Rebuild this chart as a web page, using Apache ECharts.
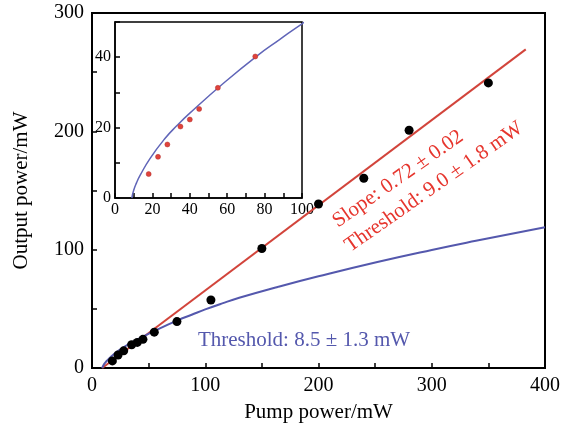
<!DOCTYPE html>
<html>
<head>
<meta charset="utf-8">
<script src="https://cdn.jsdelivr.net/npm/echarts@6/dist/echarts.min.js"></script>
<style>html,body{margin:0;padding:0;background:#fff}#c{width:563px;height:433px}</style>
</head>
<body>
<div id="c"></div>
<script>
// Main panel measured points
const mainX = [18, 23, 28, 35, 40, 45, 55, 75, 105, 150, 200, 240, 280, 350];
const mainY = [6.0, 11.0, 14.5, 19.6, 21.6, 24.2, 30.3, 39.2, 57.5, 101, 138.6, 160.4, 200.9, 240.9];
// Inset measured points
const insetX = [18, 23, 28, 35, 40, 45, 55, 75];
const insetY = [6.8, 11.7, 15.2, 20.3, 22.3, 25.3, 31.3, 40.2];
// Fitted curve
const curveX = [9, 10, 11.5, 13.4, 18.7, 26.7, 33, 40, 58, 76, 88, 100, 115, 130, 164, 200, 252, 300, 339, 400];
const curveY = [0, 2.2, 4.3, 6.4, 11.2, 16.9, 20.5, 24.1, 32.6, 40.4, 45.0, 49.5, 54.6, 59.3, 68.5, 77.5, 89.6, 99.8, 107.5, 119];
// Linear fit endpoints
const lineX = [9, 383];
const lineY = [0, 269.3];
// Tick labels
const mainXLabels = [0, 100, 200, 300, 400];
const mainYLabels = [0, 100, 200, 300];
const insetXLabels = [0, 20, 40, 60, 80, 100];
const insetYLabels = [0, 20, 40];

const pairs = (xs, ys) => xs.map((x, i) => [x, ys[i]]);
const FONT = 'Liberation Serif';
const RED = '#e6352d';
const BLUE = '#5458ad';

const chart = echarts.init(document.getElementById('c'), null, {renderer: 'canvas'});
const axisCommon = (labels, size, margin) => ({
  axisLine: {show: true, onZero: false, lineStyle: {color: '#000', width: 2}},
  axisTick: {show: true, inside: true, length: 5, lineStyle: {color: '#000', width: 1.5}},
  splitLine: {show: false},
  axisLabel: {
    fontFamily: FONT, fontSize: size, color: '#000', margin: margin,
    formatter: v => labels.indexOf(v) >= 0 ? String(v) : ''
  }
});
chart.setOption({
  animation: false,
  backgroundColor: '#fff',
  grid: [
    {left: 92, right: 13, top: 13, bottom: 65, show: true, borderColor: '#000', borderWidth: 2, backgroundColor: 'transparent'},
    {left: 115, right: 261, top: 22, bottom: 235, show: true, borderColor: '#000', borderWidth: 1.5, backgroundColor: '#fff'}
  ],
  xAxis: [
    Object.assign({type: 'value', gridIndex: 0, min: 0, max: 400, interval: 50,
      name: 'Pump power/mW', nameLocation: 'middle', nameGap: 34,
      nameTextStyle: {fontFamily: FONT, fontSize: 21, color: '#000'}}, axisCommon(mainXLabels, 20, 8)),
    Object.assign({type: 'value', gridIndex: 1, min: 0, max: 100, interval: 10}, axisCommon(insetXLabels, 16, 4),
      {axisLine: {show: true, onZero: false, lineStyle: {color: '#000', width: 1.5}}})
  ],
  yAxis: [
    Object.assign({type: 'value', gridIndex: 0, min: 0, max: 300, interval: 50,
      name: 'Output power/mW', nameLocation: 'middle', nameGap: 60,
      nameTextStyle: {fontFamily: FONT, fontSize: 21, color: '#000'}}, axisCommon(mainYLabels, 20, 8)),
    Object.assign({type: 'value', gridIndex: 1, min: 0, max: 50, interval: 10}, axisCommon(insetYLabels, 16, 4),
      {axisLine: {show: true, onZero: false, lineStyle: {color: '#000', width: 1.5}}})
  ],
  series: [
    {type: 'line', xAxisIndex: 0, yAxisIndex: 0, data: pairs(lineX, lineY), showSymbol: false, symbol: 'none',
      lineStyle: {color: '#d2443b', width: 2}, z: 2},
    {type: 'line', xAxisIndex: 0, yAxisIndex: 0, data: pairs(curveX, curveY), showSymbol: false, symbol: 'none',
      smooth: 0.5, lineStyle: {color: BLUE, width: 2}, z: 2},
    {type: 'scatter', xAxisIndex: 0, yAxisIndex: 0, data: pairs(mainX, mainY), symbolSize: 9,
      itemStyle: {color: '#000', opacity: 1}, z: 3},
    {type: 'line', xAxisIndex: 1, yAxisIndex: 1, data: pairs(curveX, curveY), showSymbol: false, symbol: 'none',
      smooth: 0.5, lineStyle: {color: '#6065b8', width: 1.5}, z: 4},
    {type: 'scatter', xAxisIndex: 1, yAxisIndex: 1, data: pairs(insetX, insetY), symbolSize: 5,
      itemStyle: {color: '#e0433b', borderColor: '#b03030', borderWidth: 0.5, opacity: 1}, z: 5}
  ],
  graphic: [
    {type: 'text', x: 304, y: 340, z: 10,
      style: {text: 'Threshold: 8.5 \u00b1 1.3 mW', fill: BLUE, font: '21px "Liberation Serif"',
        align: 'center', verticalAlign: 'middle', textAlign: 'center', textVerticalAlign: 'middle'}},
    {type: 'text', x: 398, y: 179, rotation: 35 * Math.PI / 180, z: 10,
      style: {text: 'Slope: 0.72 \u00b1 0.02', fill: RED, font: '21px "Liberation Serif"',
        align: 'center', verticalAlign: 'middle', textAlign: 'center', textVerticalAlign: 'middle'}},
    {type: 'text', x: 434, y: 187, rotation: 35 * Math.PI / 180, z: 10,
      style: {text: 'Threshold: 9.0 \u00b1 1.8 mW', fill: RED, font: '21px "Liberation Serif"',
        align: 'center', verticalAlign: 'middle', textAlign: 'center', textVerticalAlign: 'middle'}}
  ]
});
</script>
</body>
</html>
